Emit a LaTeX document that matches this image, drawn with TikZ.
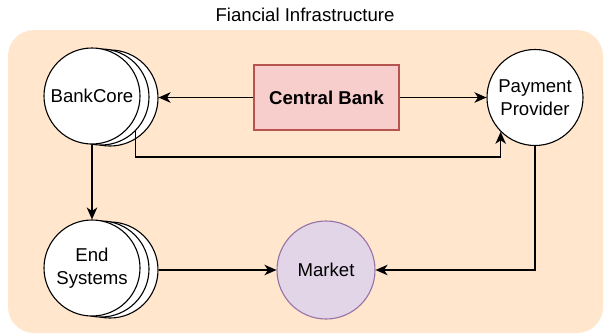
\documentclass[tikz,border=0pt]{standalone}
\usepackage{fontspec}
\setmainfont{Liberation Sans}
\usetikzlibrary{arrows.meta,calc}
\definecolor{bgpeach}{HTML}{FFE6CC}
\definecolor{cbfill}{HTML}{F8CECC}
\definecolor{cbline}{HTML}{B85450}
\definecolor{mkfill}{HTML}{E1D5E7}
\definecolor{mkline}{HTML}{9673A6}
\begin{document}
\begin{tikzpicture}[x=1pt,y=-1pt,
  txt/.style={font=\fontsize{18.6}{22.5}\selectfont, align=center},
  circ/.style={txt, circle, draw=black, line width=1.1pt, fill=white, minimum size=96pt, inner sep=0pt},
  arr/.style={draw=black, line width=1.3pt, -{Stealth[length=12pt,width=10.5pt,inset=3.5pt]}},
  ln/.style={draw=black, line width=1.3pt}]
\useasboundingbox (0,0) rectangle (605,335);
\fill[bgpeach, rounded corners=26pt] (8,30) rectangle (603,333);
\node[txt] (title) at (305,15) {Fiancial Infrastructure};
% BankCore stack
\node[circ] (bc3) at (110,98) {};
\node[circ] (bc2) at (101,97) {};
\node[circ] (bc) at (92,96) {BankCore};
% End Systems stack
\node[circ] (es3) at (110,270) {};
\node[circ] (es2) at (101,269) {};
\node[circ] (es) at (92,268) {End\\Systems};
% Payment provider
\node[circ] (pp) at (535,97.5) {Payment\\Provider};
% Market
\node[circ, fill=mkfill, draw=mkline, minimum size=98pt] (mk) at (326,270) {Market};
% Central bank
\node[txt, font=\fontsize{18.6}{22.5}\selectfont\bfseries, draw=cbline, fill=cbfill, line width=1.1pt,
      minimum width=145pt, minimum height=65pt, inner sep=0pt] (cb) at (326.5,97.5) {Central Bank};
\coordinate (low) at (0,157);
% connectors
\draw[arr] (cb.west) -- (bc3.east |- cb.west);
\draw[arr] (cb.east) -- (pp.west);
\draw[arr] (bc2.south east) -- (bc2.south east |- low) -| (pp.south west);
\draw[arr] (bc.south) -- (es.north);
\draw[arr] (es3.east |- mk.west) -- (mk.west);
\draw[arr] (pp.south) |- (mk.east);
\end{tikzpicture}
\end{document}
